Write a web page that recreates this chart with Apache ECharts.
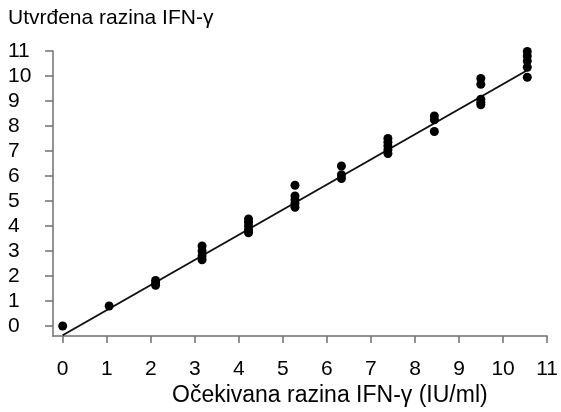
<!DOCTYPE html>
<html>
<head>
<meta charset="utf-8">
<script src="https://cdn.jsdelivr.net/npm/echarts@6/dist/echarts.min.js"></script>
<style>html,body{margin:0;padding:0;background:#fff}#c{width:561px;height:412px}</style>
</head>
<body>
<div id="c"></div>
<script>
// Expected IFN-γ level (x) and measured replicates (y)
const expected = [0, 1.055, 2.11, 3.165, 4.22, 5.275, 6.33, 7.385, 8.44, 9.495, 10.55];
const measured = [
  [0.0],
  [0.8],
  [1.82, 1.7, 1.63],
  [3.2, 3.0, 2.8, 2.65],
  [4.28, 4.15, 4.0, 3.85, 3.73],
  [5.63, 5.2, 5.05, 4.9, 4.75],
  [6.4, 6.05, 5.9],
  [7.5, 7.35, 7.2, 7.05, 6.9],
  [8.4, 8.25, 7.78],
  [9.9, 9.67, 9.07, 8.95, 8.85],
  [10.98, 10.8, 10.6, 10.35, 9.95]
];
const fitLine = [[0, -0.37], [10.55, 10.23]];
const xTicks = [0,1,2,3,4,5,6,7,8,9,10,11];
const yTicks = [0,1,2,3,4,5,6,7,8,9,10,11];
const yTitle = 'Utvrđena razina IFN-γ';
const xTitle = 'Očekivana razina IFN-γ (IU/ml)';

const points = [];
expected.forEach((x, i) => measured[i].forEach(y => points.push([x, y])));

const font = 'Liberation Sans, Arial, sans-serif';
const axisGray = '#707070';
const chart = echarts.init(document.getElementById('c'));
chart.setOption({
  animation: false,
  grid: { left: 53, right: 10, top: 51, bottom: 76, containLabel: false },
  xAxis: {
    type: 'value', min: -0.22, max: 11, interval: 1,
    axisLine: { show: true, onZero: false, lineStyle: { color: axisGray, width: 1.5 } },
    axisTick: { show: true, length: 7, lineStyle: { color: axisGray, width: 1.5 },
      customValues: xTicks },
    axisLabel: { color: '#000', fontSize: 21, fontFamily: font, margin: 23,
      customValues: xTicks, formatter: v => String(v) },
    splitLine: { show: false }
  },
  yAxis: {
    type: 'value', min: -0.4, max: 11, interval: 1,
    axisLine: { show: true, onZero: false, lineStyle: { color: axisGray, width: 1.5 } },
    axisTick: { show: true, length: 8, lineStyle: { color: axisGray, width: 1.5 },
      customValues: yTicks },
    axisLabel: { color: '#000', fontSize: 21, fontFamily: font, margin: 45, align: 'left',
      customValues: yTicks, formatter: v => String(v) },
    splitLine: { show: false }
  },
  graphic: [
    { type: 'text', left: 8, top: 8, style: { text: yTitle, fontSize: 21, fontFamily: font, fill: '#000' } },
    { type: 'text', left: 172, top: 384, style: { text: xTitle, fontSize: 23, fontFamily: font, fill: '#000' } }
  ],
  series: [
    { type: 'line', data: fitLine, symbol: 'none', lineStyle: { color: '#111', width: 2 }, z: 2 },
    { type: 'scatter', data: points, symbolSize: 9, itemStyle: { color: '#000', opacity: 1 }, z: 3 }
  ]
});
</script>
</body>
</html>
